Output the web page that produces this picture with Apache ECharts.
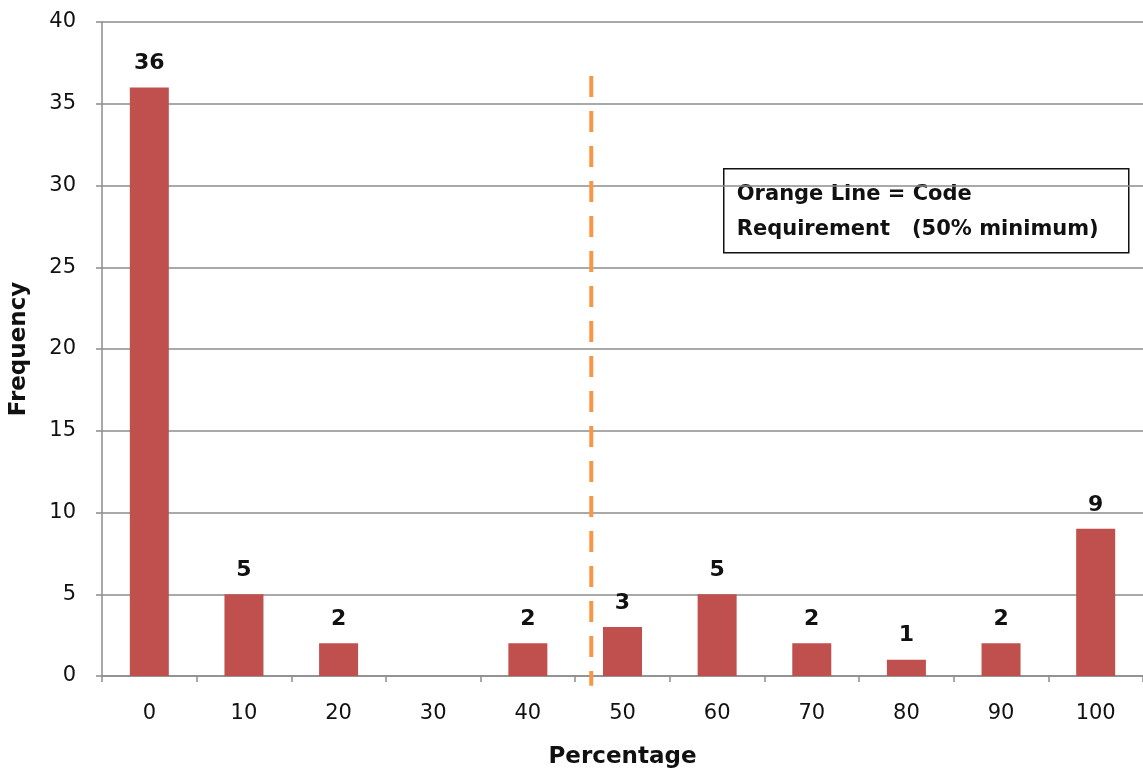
<!DOCTYPE html>
<html>
<head>
<meta charset="utf-8">
<script src="https://cdn.jsdelivr.net/npm/echarts@6/dist/echarts.min.js"></script>
<style>html,body{margin:0;padding:0;background:#fff}#c{width:1143px;height:776px}</style>
</head>
<body>
<div id="c"></div>
<script>
const categories = ['0','10','20','30','40','50','60','70','80','90','100'];
const frequency = [36, 5, 2, 0, 2, 3, 5, 2, 1, 2, 9];
const barLabels = ['36','5','2','','2','3','5','2','1','2','9'];
const yTicks = [0, 5, 10, 15, 20, 25, 30, 35, 40];
const requirementX = 5.17;          // position in category-slot units (0..11)
const requirementSpan = [36.7, -0.6];
const noteLines = ['Orange Line = Code', 'Requirement   (50% minimum)'];

const chart = echarts.init(document.getElementById('c'), null, {renderer: 'canvas'});
const font = '"DejaVu Sans", sans-serif';
const gridColor = '#8c8c8c';

chart.setOption({
  animation: false,
  backgroundColor: '#fff',
  grid: {left: 102, right: 0, top: 22, bottom: 100},
  xAxis: [{
    type: 'category',
    data: categories,
    name: 'Percentage',
    nameLocation: 'middle',
    nameGap: 70,
    nameTextStyle: {fontFamily: font, fontSize: 23, fontWeight: 'bold', color: '#111'},
    axisLine: {lineStyle: {color: gridColor, width: 1.5}},
    axisTick: {show: true, alignWithLabel: false, length: 6, lineStyle: {color: gridColor, width: 1.5}},
    axisLabel: {fontFamily: font, fontSize: 21, color: '#111', margin: 27},
    splitLine: {show: false}
  }, {
    type: 'value',
    min: 0, max: 11,
    show: false
  }],
  yAxis: {
    type: 'value',
    min: yTicks[0], max: yTicks[yTicks.length - 1], interval: 5,
    name: 'Frequency',
    nameLocation: 'middle',
    nameGap: 71,
    nameRotate: 90,
    nameTextStyle: {fontFamily: font, fontSize: 23, fontWeight: 'bold', color: '#111'},
    axisLine: {show: true, lineStyle: {color: gridColor, width: 1.5}},
    axisTick: {show: true, length: 6, lineStyle: {color: gridColor, width: 1.5}},
    axisLabel: {fontFamily: font, fontSize: 21, color: '#111', margin: 26},
    splitLine: {show: true, lineStyle: {color: gridColor, width: 1.5}}
  },
  series: [{
    type: 'bar',
    data: frequency,
    barWidth: 39,
    itemStyle: {color: '#C0504D'},
    label: {
      show: true, position: 'top', distance: 13,
      fontFamily: font, fontSize: 22, fontWeight: 'bold', color: '#111',
      formatter: p => barLabels[p.dataIndex]
    }
  }, {
    type: 'line',
    xAxisIndex: 1,
    data: [[requirementX, requirementSpan[0]], [requirementX, requirementSpan[1]]],
    clip: false,
    symbol: 'none',
    lineStyle: {color: '#F79646', width: 4, type: [21, 14]},
    z: 5
  }],
  graphic: [{
    type: 'group',
    left: 723, top: 168,
    children: [{
      type: 'rect',
      shape: {x: 0, y: 0, width: 405, height: 84},
      style: {fill: '#fff', stroke: '#111', lineWidth: 1.5}
    }, {
      type: 'text',
      style: {x: 13, y: 26, text: noteLines[0], font: 'bold 21px ' + font, fill: '#111', verticalAlign: 'middle'}
    }, {
      type: 'text',
      style: {x: 13, y: 61, text: noteLines[1], font: 'bold 21px ' + font, fill: '#111', verticalAlign: 'middle'}
    }]
  }]
});
</script>
</body>
</html>
